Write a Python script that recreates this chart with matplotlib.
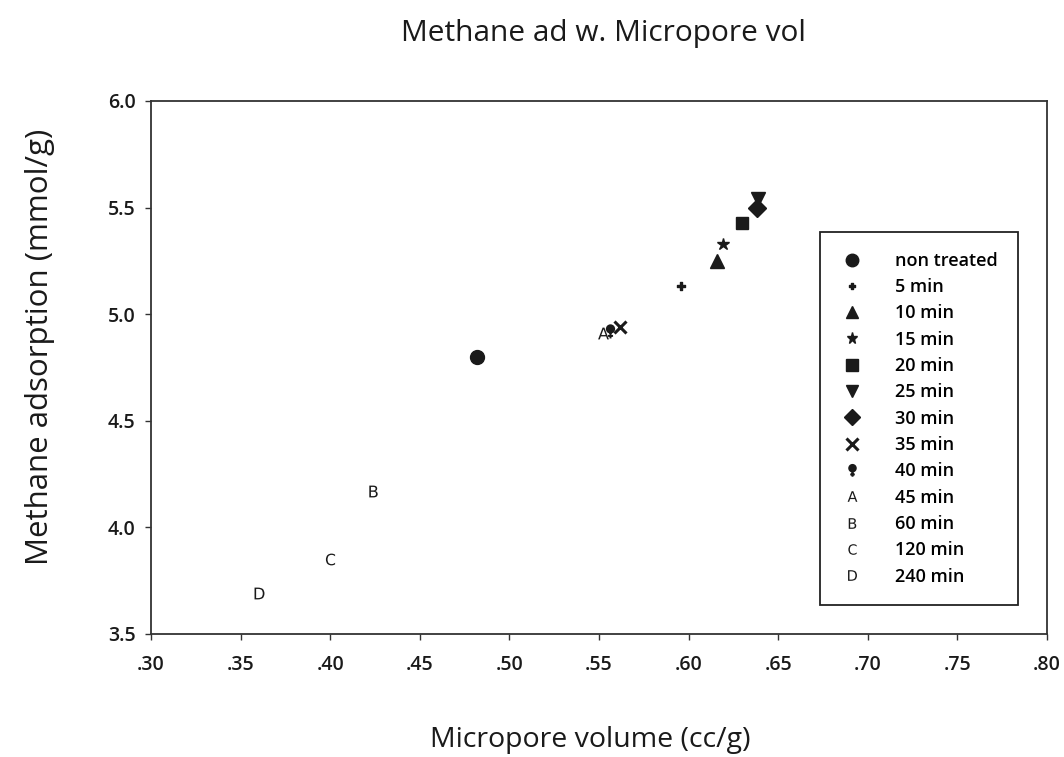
import matplotlib
matplotlib.use("Agg")
import matplotlib.pyplot as plt
from matplotlib.path import Path
from matplotlib.ticker import FuncFormatter, MultipleLocator

plt.rcParams['font.family'] = ['Open Sans', 'DejaVu Sans']

# Treatment groups with micropore volume (cc/g) and methane adsorption (mmol/g)
labels = ["non treated", "5 min", "10 min", "15 min", "20 min", "25 min",
          "30 min", "35 min", "40 min", "45 min", "60 min", "120 min", "240 min"]
micropore = [0.482, 0.596, 0.616, 0.619, 0.630, 0.639, 0.638, 0.562, 0.556, 0.552, 0.424, 0.400, 0.360]
methane = [4.80, 5.13, 5.25, 5.33, 5.43, 5.54, 5.50, 4.94, 4.92, 4.91, 4.17, 3.85, 3.69]

# Pin-shaped marker: a round head with a small cross underneath
_circ = Path.circle(center=(0, 0.35), radius=0.5)
_cross = Path([(0, -0.1), (0, -0.95), (-0.35, -0.6), (0.35, -0.6)],
              [Path.MOVETO, Path.LINETO, Path.MOVETO, Path.LINETO])
pin = Path.make_compound_path(_circ, _cross)

# Thick plus sign used for the 5 min group
_w = 0.3
plus = Path([(-_w, 1), (_w, 1), (_w, _w), (1, _w), (1, -_w), (_w, -_w), (_w, -1),
             (-_w, -1), (-_w, -_w), (-1, -_w), (-1, _w), (-_w, _w), (-_w, 1)],
            closed=True)

styles = [
    dict(marker="o", ms=10),
    dict(marker=plus, ms=5.5),
    dict(marker="^", ms=10),
    dict(marker="*", ms=9),
    dict(marker="s", ms=9),
    dict(marker="v", ms=10),
    dict(marker="D", ms=9),
    dict(marker="x", ms=9, mew=2.2),
    dict(marker=pin, ms=10, mew=1.4),
    dict(marker=r"$\mathsf{A}$", ms=8.5, mew=0),
    dict(marker=r"$\mathsf{B}$", ms=8.5, mew=0),
    dict(marker=r"$\mathsf{C}$", ms=8.5, mew=0),
    dict(marker=r"$\mathsf{D}$", ms=8.5, mew=0),
]

fig = plt.figure(figsize=(10.64, 7.57), dpi=100)
ax = fig.add_axes([0.1419, 0.1625, 0.8421, 0.7041])

for lab, xv, yv, st in zip(labels, micropore, methane, styles):
    kw = dict(linestyle="none", color="#1a1a1a", label=lab)
    kw.update(markersize=st["ms"], marker=st["marker"])
    if "mew" in st:
        kw["markeredgewidth"] = st["mew"]
    ax.plot([xv], [yv], **kw)

ax.set_xlim(0.30, 0.80)
ax.set_ylim(3.5, 6.0)
ax.xaxis.set_major_locator(MultipleLocator(0.05))
ax.yaxis.set_major_locator(MultipleLocator(0.5))
ax.xaxis.set_major_formatter(FuncFormatter(lambda v, p: f"{v:.2f}".lstrip("0")))
ax.yaxis.set_major_formatter(FuncFormatter(lambda v, p: f"{v:.1f}"))
ax.tick_params(axis="both", direction="out", length=4, width=1, colors="#333333",
               labelsize=14, labelcolor="#1a1a1a")
ax.tick_params(axis="x", pad=11)
ax.tick_params(axis="y", pad=7)
for lbl in ax.get_xticklabels() + ax.get_yticklabels():
    lbl.set_fontweight("semibold")
for s in ax.spines.values():
    s.set_color("#333333")
    s.set_linewidth(1.3)

fig.text(0.567, 0.956, "Methane ad w. Micropore vol", ha="center", va="center",
         fontsize=21.5, color="#1a1a1a")
fig.text(0.555, 0.0225, "Micropore volume (cc/g)", ha="center", va="center",
         fontsize=20.5, color="#1a1a1a")
fig.text(0.038, 0.542, "Methane adsorption (mmol/g)", ha="center", va="center",
         rotation=90, fontsize=22.5, color="#1a1a1a")

leg = fig.legend(loc="upper left", bbox_to_anchor=(0.7707, 0.6935),
                 bbox_transform=fig.transFigure, frameon=True, fancybox=False,
                 edgecolor="#222222", prop=dict(size=13, weight="semibold"),
                 labelspacing=0.46, markerscale=0.9,
                 handlelength=1.3, handletextpad=1.75, borderpad=1.1,
                 borderaxespad=0, numpoints=1, framealpha=1)
leg.get_frame().set_linewidth(1.3)

fig.savefig("out.png", dpi=100, facecolor="white")
